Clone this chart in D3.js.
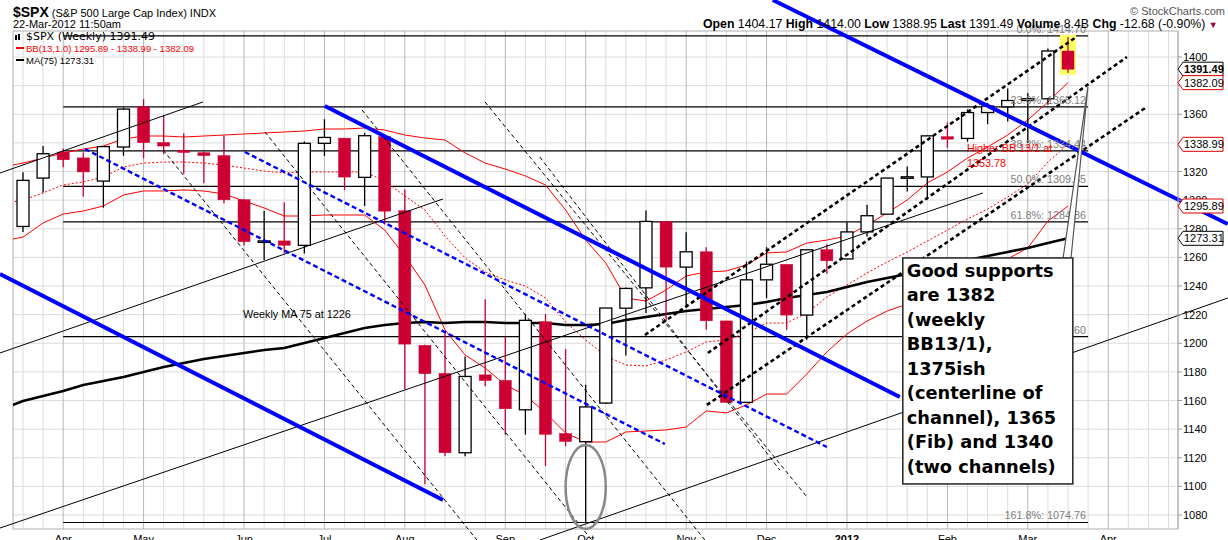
<!DOCTYPE html>
<html><head><meta charset="utf-8">
<script src="https://cdn.jsdelivr.net/npm/d3@7"></script>
<style>body{margin:0;background:#fff;} svg{display:block;font-family:"Liberation Sans",Arial,sans-serif;}</style>
</head><body><svg id="c" width="1228" height="540"></svg>
<script>
// ---------- DATA ----------
const weeks = ["2011-03-21","2011-03-28","2011-04-04","2011-04-11","2011-04-18","2011-04-25","2011-05-02","2011-05-09","2011-05-16","2011-05-23","2011-05-31","2011-06-06","2011-06-13","2011-06-20","2011-06-27","2011-07-05","2011-07-11","2011-07-18","2011-07-25","2011-08-01","2011-08-08","2011-08-15","2011-08-22","2011-08-29","2011-09-06","2011-09-12","2011-09-19","2011-09-26","2011-10-03","2011-10-10","2011-10-17","2011-10-24","2011-10-31","2011-11-07","2011-11-14","2011-11-21","2011-11-28","2011-12-05","2011-12-12","2011-12-19","2011-12-27","2012-01-03","2012-01-09","2012-01-17","2012-01-23","2012-01-30","2012-02-06","2012-02-13","2012-02-21","2012-02-27","2012-03-05","2012-03-12","2012-03-19"];
const opens  = [1281.6,1315.4,1333.6,1329.5,1313.3,1337.1,1365.2,1340.2,1334.8,1333.1,1331.1,1300.3,1271.3,1271.5,1268.4,1339.7,1343.3,1315.9,1344.3,1292.6,1198.5,1178.9,1123.5,1177.9,1174.0,1153.5,1215.0,1136.9,1131.2,1158.2,1224.5,1238.7,1285.0,1253.2,1263.9,1215.6,1158.7,1244.3,1255.1,1219.7,1265.4,1258.9,1277.8,1290.2,1315.3,1316.2,1344.3,1343.1,1361.2,1365.2,1369.6,1370.8,1404.17];
const highs  = [1319.5,1337.8,1336.0,1333.2,1337.5,1364.6,1370.6,1359.4,1346.8,1334.0,1345.2,1300.6,1292.5,1298.6,1341.0,1356.5,1343.3,1347.0,1344.3,1307.4,1199.0,1208.5,1190.7,1230.7,1204.4,1220.4,1220.4,1195.9,1171.0,1224.6,1239.0,1292.7,1285.0,1277.6,1267.0,1215.6,1257.0,1267.1,1255.1,1265.4,1269.4,1284.6,1296.8,1315.5,1323.5,1345.1,1354.3,1363.4,1367.8,1378.0,1374.8,1405.9,1414.00];
const lows   = [1277.7,1305.3,1322.9,1302.4,1294.7,1331.0,1329.2,1332.0,1318.5,1311.8,1297.8,1268.5,1258.1,1262.9,1262.7,1330.9,1307.0,1295.9,1282.9,1168.1,1101.5,1121.0,1121.1,1170.0,1136.1,1136.2,1114.2,1128.0,1074.8,1157.5,1191.5,1221.1,1215.4,1226.6,1209.4,1158.7,1158.7,1231.5,1209.5,1202.4,1248.6,1258.9,1274.5,1290.2,1306.1,1300.5,1336.5,1340.8,1353.0,1354.9,1340.0,1366.7,1388.95];
const closes = [1313.8,1332.4,1328.2,1319.7,1337.4,1363.6,1340.2,1337.8,1333.3,1331.1,1300.2,1271.0,1271.5,1268.5,1339.7,1343.8,1316.1,1345.0,1292.3,1199.4,1178.8,1123.5,1176.8,1174.0,1154.2,1216.0,1136.4,1131.4,1155.5,1224.6,1238.3,1285.1,1253.2,1263.9,1215.7,1158.7,1244.3,1255.2,1219.7,1265.3,1257.6,1277.8,1289.1,1315.4,1316.3,1344.9,1342.6,1361.2,1365.7,1369.6,1370.9,1404.2,1391.49];
// indicator series: first value is the week before the first candle (index -1)
const bbUpper = [1323.1,1325.9,1329.4,1332.9,1335.7,1337.8,1342.7,1344.8,1344.8,1344.1,1344.8,1345.5,1346.2,1346.9,1347.6,1348.3,1349.7,1349.7,1350.4,1349.0,1345.5,1343.4,1342.0,1332.9,1325.9,1321.7,1316.9,1310.6,1293.1,1272.1,1256.1,1231.6,1229.5,1237.2,1247.0,1249.8,1250.5,1254.7,1263.1,1263.8,1270.0,1272.1,1274.9,1282.6,1291.0,1300.1,1312.0,1319.7,1329.4,1337.1,1345.5,1356.0,1368.6,1382.09];
const bbMid   = [1297.3,1300.1,1305.0,1310.6,1312.7,1316.2,1323.1,1325.9,1326.6,1326.6,1325.9,1324.5,1322.4,1320.3,1319.0,1319.7,1319.7,1319.7,1319.7,1313.4,1302.9,1293.1,1274.9,1259.6,1249.8,1244.2,1240.0,1231.6,1214.8,1202.3,1191.1,1184.8,1184.1,1188.3,1193.9,1200.9,1202.3,1207.2,1214.1,1214.1,1221.1,1232.3,1240.7,1249.1,1256.8,1263.8,1271.4,1279.1,1286.8,1293.8,1302.2,1311.3,1326.6,1338.99];
const bbLower = [1271.4,1274.2,1284.0,1290.3,1292.4,1295.9,1303.6,1306.4,1306.4,1307.1,1306.4,1304.3,1299.4,1294.5,1288.9,1288.9,1289.6,1289.6,1289.6,1279.1,1261.0,1240.7,1209.3,1191.8,1182.7,1170.8,1163.8,1151.3,1137.3,1131.0,1131.0,1138.0,1138.7,1139.4,1141.5,1152.7,1151.3,1156.9,1164.5,1164.5,1178.5,1193.9,1206.5,1215.5,1222.5,1227.4,1230.9,1238.6,1244.2,1250.5,1258.9,1266.6,1285.4,1295.89];
const ma75    = [1154.1,1159.7,1163.1,1166.6,1170.8,1173.6,1176.4,1179.9,1183.4,1186.2,1189.0,1191.1,1193.2,1195.3,1196.7,1200.2,1203.7,1207.2,1210.7,1212.8,1214.1,1214.8,1214.1,1214.8,1214.8,1214.1,1214.1,1214.1,1212.8,1212.8,1213.5,1216.2,1218.3,1220.4,1222.5,1223.9,1225.3,1226.7,1228.8,1231.6,1233.7,1235.8,1239.3,1242.8,1245.6,1248.4,1251.9,1255.4,1258.2,1261.0,1263.8,1266.6,1270.0,1273.31];

const monthTickIdx = [2,6,11,15,19,24,28,33,37,41,46,50,54];
const monthTickLbl = ["Apr","May","Jun","Jul","Aug","Sep","Oct","Nov","Dec","2012","Feb","Mar","Apr"];
const priceTicks = [1080,1100,1120,1140,1160,1180,1200,1220,1240,1260,1280,1300,1320,1340,1360,1380,1400];

const fibPrices = [1414.70,1365.12,1334.44,1309.65,1284.86,1204.60,1074.76];
const fibLabels = ["0.0%: 1414.70","23.6%: 1365.12","38.2%: 1334.44","50.0%: 1309.65","61.8%: 1284.86","100.0%: 1204.60","161.8%: 1074.76"];

// trend lines as [weekIndex, price] end points
const thinSolid = [[[-1.144,1318.95],[8.955,1368.56]],[[-1.144,1193.2],[20.9,1300.8]],[[-1.144,1070.9],[47.76,1305.0]],[[25.72,1062.5],[59.95,1231.6]]];
const blueThick = [[[37.31,1439.8],[59.95,1283.3]],[[15.02,1365.8],[43.63,1162.4]],[[-1.144,1248.4],[20.9,1090.5]]];
const blueDashed = [[[3.085,1335.7],[31.94,1129.6]],[[11.04,1333.6],[40.0,1127.5]]];
const blackDashedThick = [[[30.95,1205.8],[52.34,1413.3]],[[34.08,1193.2],[54.93,1400.0]],[[34.03,1156.9],[55.92,1365.1]]];
const thinDashed = [[[6.97,1335.0],[22.59,1062.5]],[[12.04,1347.6],[28.7,1055.5]],[[16.87,1363.0],[33.93,1062.5]],[[22.99,1368.6],[39.05,1091.9]],[[25.72,1330.1],[37.66,1111.4]]];

const tags = [
  {v:1391.49, txt:"1391.49", col:"#000", bold:true},
  {v:1382.09, txt:"1382.09", col:"#e00000", bold:false},
  {v:1338.99, txt:"1338.99", col:"#e00000", bold:false},
  {v:1295.89, txt:"1295.89", col:"#e00000", bold:false},
  {v:1273.31, txt:"1273.31", col:"#000", bold:false}
];
const boxLines = ["Good supports","are 1382","(weekly","BB13/1),","1375ish","(centerline of","channel), 1365","(Fib) and 1340","(two channels)"];

// ---------- LAYOUT ----------
const PL=13, PR=1178, PT=31, PB=529;
const x = d3.scaleLinear().domain([0,52]).range([23,1068]);
const y = d3.scaleLinear().domain([1080,1400]).range([515,57]);
const svg = d3.select("#c");
const RED="#cc0033";

svg.append("defs").append("clipPath").attr("id","plot").append("rect")
  .attr("x",PL).attr("y",PT).attr("width",PR-PL).attr("height",PB-PT);

// grid
const g = svg.append("g");
g.selectAll("line.hg").data(priceTicks).join("line")
  .attr("x1",PL).attr("x2",PR).attr("y1",d=>y(d)).attr("y2",d=>y(d)).attr("stroke","#dcdcdc");
g.selectAll("line.vg").data(d3.range(0,58)).join("line")
  .attr("x1",d=>x(d)).attr("x2",d=>x(d)).attr("y1",PT).attr("y2",PB)
  .attr("stroke",d=>monthTickIdx.includes(d)?"#b8b8b8":"#dcdcdc");
g.append("rect").attr("x",PL).attr("y",PT).attr("width",PR-PL).attr("height",PB-PT)
  .attr("fill","none").attr("stroke","#b0b0b0");

// fib lines
const fg = svg.append("g");
fg.selectAll("line").data(fibPrices).join("line")
  .attr("x1",x(2)).attr("x2",x(53)).attr("y1",d=>y(d)).attr("y2",d=>y(d))
  .attr("stroke","#000").attr("stroke-width",1.2);

// highlight last candle
const li = closes.length-1;
svg.append("rect").attr("x",x(li)-8).attr("width",16)
  .attr("y",y(highs[li])-2).attr("height",y(lows[li])-y(highs[li])+4).attr("fill","#ffff66");

// indicators
const ig = svg.append("g").attr("clip-path","url(#plot)");
const ln = d3.line().x((d,i)=>x(i-1)).y(d=>y(d));
ig.append("path").attr("d",ln(bbUpper)).attr("fill","none").attr("stroke","#ff0000").attr("stroke-width",1);
ig.append("path").attr("d",ln(bbLower)).attr("fill","none").attr("stroke","#ff0000").attr("stroke-width",1);
ig.append("path").attr("d",ln(bbMid)).attr("fill","none").attr("stroke","#ff0000").attr("stroke-width",1).attr("stroke-dasharray","2,2");
ig.append("path").attr("d",ln(ma75)).attr("fill","none").attr("stroke","#000").attr("stroke-width",2.6);

// candles
const cg = svg.append("g");
const idx = d3.range(closes.length);
const up = i => closes[i] >= opens[i];
cg.selectAll("line.w").data(idx).join("line")
  .attr("x1",i=>x(i)).attr("x2",i=>x(i)).attr("y1",i=>y(highs[i])).attr("y2",i=>y(lows[i]))
  .attr("stroke",i=>up(i)?"#000":RED).attr("stroke-width",1.3);
cg.selectAll("rect.b").data(idx).join("rect")
  .attr("x",i=>x(i)-6).attr("width",12)
  .attr("y",i=>y(Math.max(opens[i],closes[i])))
  .attr("height",i=>Math.max(1.5,Math.abs(y(opens[i])-y(closes[i]))))
  .attr("fill",i=>up(i)?"#fff":RED)
  .attr("stroke",i=>up(i)?"#000":RED).attr("stroke-width",i=>up(i)?1.3:0.5);

// trend lines
const tl = svg.append("g");
function drawLines(data, col, w, dash){
  tl.selectAll(null).data(data).enter().append("line")
    .attr("x1",d=>x(d[0][0])).attr("y1",d=>y(d[0][1]))
    .attr("x2",d=>x(d[1][0])).attr("y2",d=>y(d[1][1]))
    .attr("stroke",col).attr("stroke-width",w).attr("stroke-dasharray",dash||null);
}
drawLines(thinSolid,"#000",1);
drawLines(thinDashed,"#000",1,"4,3");
drawLines(blueDashed,"#0000ff",2.4,"5,3");
drawLines(blackDashedThick,"#000",2.6,"4,3");
drawLines(blueThick,"#0000ff",4);

// ellipse around the October low
svg.append("ellipse").attr("cx",x(28)).attr("cy",y(1099.6))
  .attr("rx",x(29)-x(28)).attr("ry",y(1070.3)-y(1099.6))
  .attr("fill","none").attr("stroke","#888").attr("stroke-width",2.5);

// fib labels
svg.append("g").selectAll("text").data(fibPrices).join("text")
  .attr("x",x(52.9)).attr("y",d=>y(d)-3).attr("text-anchor","end")
  .attr("font-size",10.8).attr("fill","#808080").text((d,i)=>fibLabels[i]);

// annotation texts
svg.append("text").attr("x",x(10.95)).attr("y",y(1217.6)).attr("font-size",10.8).text("Weekly MA 75 at 1226");
svg.append("text").attr("x",x(46.97)).attr("y",y(1333.6)).attr("font-size",10.8).attr("fill","#ff0000").text("Higher BB 13/1 at");
svg.append("text").attr("x",x(46.97)).attr("y",y(1323.1)).attr("font-size",10.8).attr("fill","#ff0000").text("1353.78");

// callout box
const bx0=x(43.78), bx1=x(52.24), by0=y(1259.6), by1=y(1101.7);
svg.append("polygon").attr("points",[[bx1-10,by0+2],[bx1-2,by0+2],[x(52.99),y(1379.0)]].join(" "))
  .attr("fill","#fff").attr("stroke","#555").attr("stroke-width",1.2);
svg.append("rect").attr("x",bx0).attr("y",by0).attr("width",bx1-bx0).attr("height",by1-by0)
  .attr("fill","#fff").attr("stroke","#222").attr("stroke-width",1.5);
svg.append("g").selectAll("text").data(boxLines).join("text")
  .attr("x",bx0+4).attr("y",(d,i)=>by0+19+i*24.5)
  .attr("font-family","'DejaVu Sans',Verdana,sans-serif")
  .attr("font-size",17.8).attr("font-weight","bold").text(d=>d);

// right axis
const ax = svg.append("g");
ax.append("line").attr("x1",PR).attr("x2",PR).attr("y1",PT).attr("y2",PB).attr("stroke","#b0b0b0");
ax.selectAll("line.t").data(priceTicks).join("line")
  .attr("x1",PR).attr("x2",PR+4).attr("y1",d=>y(d)).attr("y2",d=>y(d)).attr("stroke","#999");
const shownTicks = priceTicks.filter(p=>!tags.some(t=>Math.abs(y(t.v)-y(p))<5));
ax.selectAll("text").data(shownTicks).join("text")
  .attr("x",PR+5).attr("y",d=>y(d)+4).attr("font-size",11).text(d=>d);
const tg = svg.append("g").selectAll("g").data(tags).join("g");
tg.append("path").attr("d",d=>{const yy=y(d.v);return `M${PR},${yy} L${PR+5},${yy-7} L${PR+45},${yy-7} L${PR+45},${yy+7} L${PR+5},${yy+7} Z`;})
  .attr("fill","#fff").attr("stroke",d=>d.col).attr("stroke-width",1);
tg.append("text").attr("x",PR+6).attr("y",d=>y(d.v)+4).attr("font-size",11)
  .attr("font-weight",d=>d.bold?"bold":"normal").attr("fill","#000").text(d=>d.txt);

// x axis labels
svg.append("g").selectAll("text").data(monthTickIdx).join("text")
  .attr("x",d=>x(d)).attr("y",543).attr("text-anchor","middle").attr("font-size",11)
  .attr("font-weight",(d,i)=>monthTickLbl[i]==="2012"?"bold":"normal").text((d,i)=>monthTickLbl[i]);

// header
const h1 = svg.append("text").attr("x",13).attr("y",17);
h1.append("tspan").attr("font-size",14).attr("font-weight","bold").text("$SPX");
h1.append("tspan").attr("font-size",11).text(" (S&P 500 Large Cap Index) INDX");
svg.append("text").attr("x",13).attr("y",28).attr("font-size",11).text("22-Mar-2012 11:50am");
// legend
svg.append("rect").attr("x",15).attr("y",35).attr("width",2).attr("height",5).attr("fill","#000");
svg.append("rect").attr("x",18).attr("y",34).attr("width",2).attr("height",6).attr("fill","#000");
svg.append("text").attr("x",26).attr("y",40).attr("font-size",11)
  .attr("font-family","'DejaVu Sans',Verdana,sans-serif").text("$SPX (Weekly) 1391.49");
svg.append("line").attr("x1",16).attr("x2",24).attr("y1",48).attr("y2",48).attr("stroke","#f00").attr("stroke-width",2);
svg.append("text").attr("x",26).attr("y",52).attr("font-size",9.5).attr("fill","#f00").text("BB(13,1.0) 1295.89 - 1338.99 - 1382.09");
svg.append("line").attr("x1",16).attr("x2",24).attr("y1",60).attr("y2",60).attr("stroke","#000").attr("stroke-width",2);
svg.append("text").attr("x",26).attr("y",64).attr("font-size",9.5).text("MA(75) 1273.31");

svg.append("text").attr("x",1225).attr("y",15).attr("text-anchor","end").attr("font-size",11).attr("fill","#555").text("© StockCharts.com");
const h2 = svg.append("text").attr("x",703).attr("y",28).attr("font-size",12.3);
[["Open"," 1404.17  "],["High"," 1414.00  "],["Low"," 1388.95  "],["Last"," 1391.49  "],["Volume"," 8.4B  "],["Chg"," -12.68 (-0.90%) "]]
  .forEach(p=>{h2.append("tspan").attr("font-weight","bold").text(p[0]);h2.append("tspan").text(p[1]);});
h2.append("tspan").attr("fill","#990033").attr("font-size",9).text("▼");
</script></body></html>
